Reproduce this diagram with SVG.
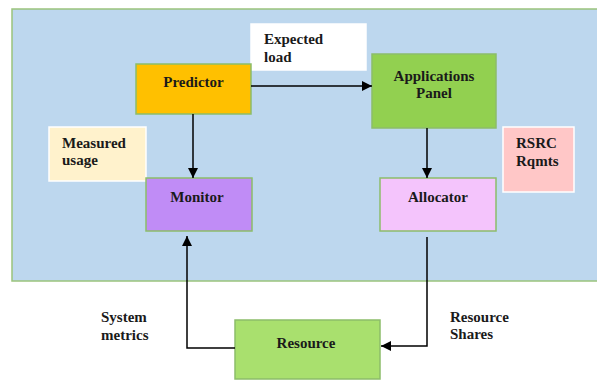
<svg xmlns="http://www.w3.org/2000/svg" width="597" height="381" viewBox="0 0 597 381">
<style>
text{font-family:"Liberation Serif","Times New Roman",serif;font-weight:bold;font-size:15px;fill:#1a1a1a}
.box{stroke:#8cbd6a;stroke-width:1.5}
.note{stroke:#ffffff;stroke-width:1.5}
.c{stroke:#000;stroke-width:1.5;fill:none}
.m{text-anchor:middle}
</style>
<defs>
<marker id="ah" viewBox="0 0 10 10" refX="10" refY="5" markerWidth="10" markerHeight="10" markerUnits="userSpaceOnUse" orient="auto">
<path d="M0,0 L10,5 L0,10 z" fill="#000"/>
</marker>
</defs>
<rect id="panel" x="12" y="9" width="590" height="272" fill="#bdd7ee" stroke="#9bc47c" stroke-width="1.5"/>
<g id="expected-load">
<rect class="note" x="251" y="24" width="115" height="46" fill="#ffffff"/>
<text x="264" y="44">Expected</text>
<text x="264" y="62">load</text>
</g>
<g id="predictor">
<rect class="box" x="136" y="64" width="115" height="50" fill="#ffc000"/>
<text class="m" x="193.5" y="87">Predictor</text>
</g>
<g id="applications-panel">
<rect class="box" x="372" y="54" width="124" height="74" fill="#92d050"/>
<text class="m" x="434" y="81">Applications</text>
<text class="m" x="434" y="98">Panel</text>
</g>
<g id="measured-usage">
<rect class="note" x="49" y="127" width="97" height="54" fill="#fff2cc"/>
<text x="62" y="148">Measured</text>
<text x="62" y="165">usage</text>
</g>
<g id="rsrc-rqmts">
<rect class="note" x="503" y="127" width="71" height="65" fill="#ffc7c7"/>
<text x="516" y="148">RSRC</text>
<text x="516" y="166">Rqmts</text>
</g>
<g id="monitor">
<rect class="box" x="146" y="178" width="106" height="53" fill="#c08cf6"/>
<text class="m" x="197" y="202">Monitor</text>
</g>
<g id="allocator">
<rect class="box" x="380" y="178" width="116" height="53" fill="#f4c4fc"/>
<text class="m" x="438" y="202">Allocator</text>
</g>
<g id="resource">
<rect class="box" x="235" y="320" width="145" height="59" fill="#a9e06e"/>
<text class="m" x="306" y="348">Resource</text>
</g>
<g id="labels">
<text x="101" y="322">System</text>
<text x="101" y="340">metrics</text>
<text x="450" y="322">Resource</text>
<text x="450" y="339">Shares</text>
</g>
<g id="connectors">
<path class="c" d="M251,86 H372" marker-end="url(#ah)"/>
<path class="c" d="M193,114 V178" marker-end="url(#ah)"/>
<path class="c" d="M427,128 V178" marker-end="url(#ah)"/>
<path class="c" d="M427,237 V346 H381" marker-end="url(#ah)"/>
<path class="c" d="M235,348 H187 V236" marker-end="url(#ah)"/>
</g>
</svg>
